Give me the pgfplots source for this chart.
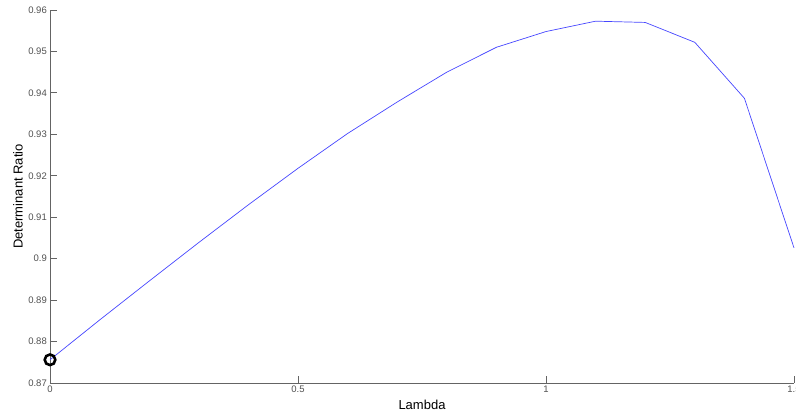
\documentclass[border=0pt]{standalone}
\usepackage{pgfplots}
\pgfplotsset{compat=1.18}
\usepackage{fontspec}
\setmainfont{Liberation Sans}
\definecolor{axgray}{RGB}{100,100,100}
\definecolor{lblgray}{RGB}{80,80,80}
\begin{document}
\begin{tikzpicture}
\begin{axis}[
  scale only axis,
  width=744pt, height=373pt,
  xmin=0, xmax=1.5, ymin=0.87, ymax=0.96,
  axis lines=left,
  axis line style={-, axgray, line width=0.8pt},
  tick style={axgray, line width=0.8pt},
  tick align=inside,
  major tick length=7pt,
  xtick={0,0.5,1,1.5},
  ytick={0.87,0.88,0.89,0.9,0.91,0.92,0.93,0.94,0.95,0.96},
  /pgf/number format/assume math mode=true,
  /pgf/number format/fixed,
  /pgf/number format/precision=2,
  ticklabel style={font=\fontsize{9.5}{10}\selectfont, text=lblgray},
  yticklabel style={inner sep=1pt, xshift=-2pt},
  xticklabel style={inner sep=1pt, yshift=-2pt},
  xlabel={Lambda},
  ylabel={Determinant Ratio},
  label style={font=\fontsize{13}{14}\selectfont, text=black},
  xlabel style={at={(axis description cs:0.5,-0.059)}, anchor=center},
  ylabel style={at={(axis description cs:-0.043,0.5)}, anchor=center},
  clip=false,
]
\addplot[color={rgb,255:red,70;green,70;blue,255}, line width=0.7pt] coordinates {
(0,0.8756) (0.1,0.8852) (0.2,0.8946) (0.3,0.9039) (0.4,0.9130)
(0.5,0.9218) (0.6,0.9302) (0.7,0.9378) (0.8,0.9450) (0.9,0.9510)
(1.0,0.9548) (1.1,0.9573) (1.2,0.9570) (1.3,0.9522) (1.4,0.9387)
(1.5,0.9026)
};
\addplot[only marks, mark=o, mark size=5.3pt, black, line width=2.6pt] coordinates {(0,0.8756)};
\end{axis}
\pgfresetboundingbox
\path[use as bounding box] (-50pt,-34pt) rectangle (746pt,383pt);
\end{tikzpicture}
\end{document}
